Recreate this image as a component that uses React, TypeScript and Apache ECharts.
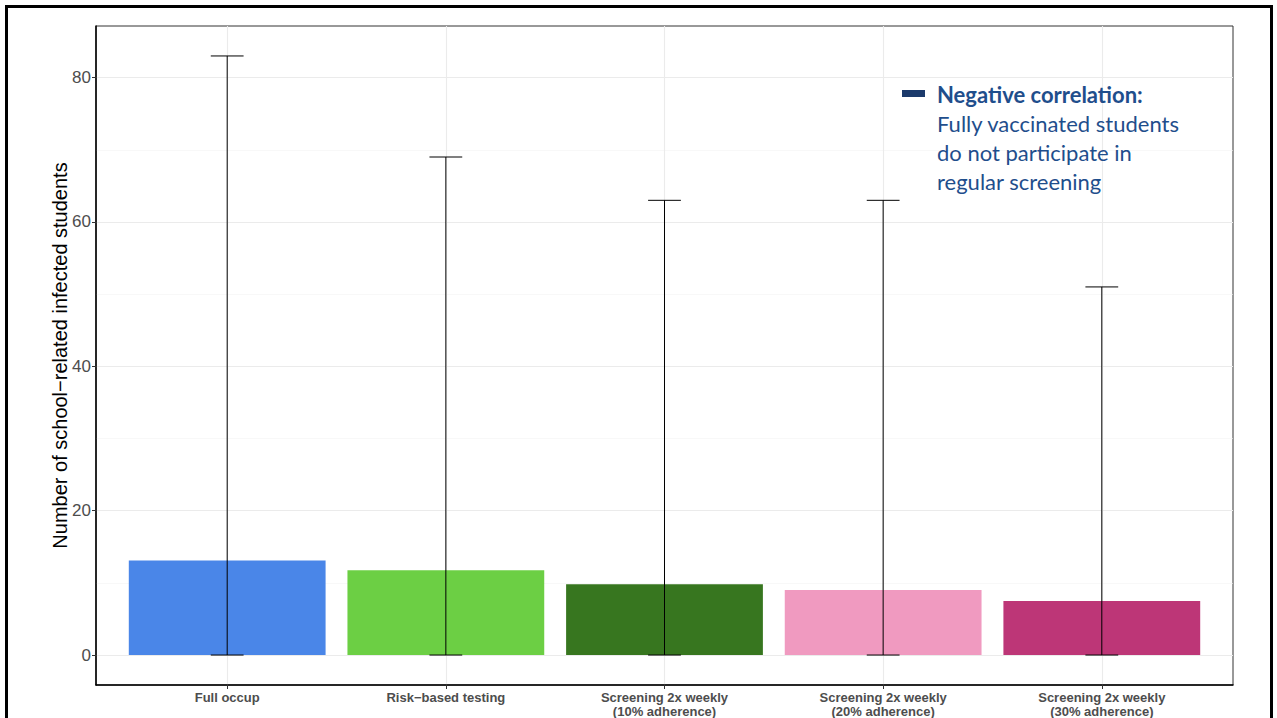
import React, { useEffect, useRef } from "react";
import * as echarts from "echarts";

const categories = [
  "Full occup",
  "Risk\u2212based testing",
  "Screening 2x weekly\n(10% adherence)",
  "Screening 2x weekly\n(20% adherence)",
  "Screening 2x weekly\n(30% adherence)",
];
const means = [13.1, 11.75, 9.8, 9.0, 7.5];
const lower = [0, 0, 0, 0, 0];
const upper = [83, 69, 63, 63, 51];
const barColors = ["#4a86e8", "#6ccf44", "#37761f", "#f09ac0", "#bd3677"];
const yTicks = [0, 20, 40, 60, 80];
const yMinor = [10, 30, 50, 70];
const positions = [1, 2, 3, 4, 5];

export default function App() {
  const ref = useRef<HTMLDivElement>(null);
  useEffect(() => {
    if (!ref.current) return;
    const chart = echarts.init(ref.current, null, { renderer: "svg" });
    const gridLines: any[] = [];
    yMinor.forEach((v) =>
      gridLines.push({ yAxis: v, lineStyle: { color: "#f4f4f4", width: 0.6, type: "solid" } })
    );
    yTicks.forEach((v) =>
      gridLines.push({ yAxis: v, lineStyle: { color: "#ebebeb", width: 1.1, type: "solid" } })
    );
    positions.forEach((v) =>
      gridLines.push({ xAxis: v, lineStyle: { color: "#ebebeb", width: 1.1, type: "solid" } })
    );
    chart.setOption({
      animation: false,
      backgroundColor: "#ffffff",
      grid: {
        left: 96,
        top: 26,
        right: 44,
        bottom: 32,
        show: true,
        borderColor: "#333333",
        borderWidth: 1,
        backgroundColor: "transparent",
      },
      xAxis: {
        type: "value",
        min: 0.4,
        max: 5.6,
        splitLine: { show: false },
        axisLine: { show: true, onZero: false, lineStyle: { color: "#000", width: 1.5 } },
        axisTick: { show: true, customValues: positions, length: 4, lineStyle: { color: "#333" } },
        axisLabel: {
          customValues: positions,
          formatter: (v: number) => categories[Math.round(v) - 1] ?? "",
          color: "#4d4d4d",
          fontFamily: "Liberation Sans, Arial, sans-serif",
          fontWeight: "bold",
          fontSize: 13,
          lineHeight: 14,
          margin: 5,
        },
      },
      yAxis: {
        type: "value",
        min: -4.15,
        max: 87.15,
        splitLine: { show: false },
        axisLine: { show: true, onZero: false, lineStyle: { color: "#000", width: 1.5 } },
        axisTick: { show: true, customValues: yTicks, length: 4, lineStyle: { color: "#333" } },
        axisLabel: {
          customValues: yTicks,
          color: "#4d4d4d",
          fontFamily: "Liberation Sans, Arial, sans-serif",
          fontSize: 17,
          margin: 5,
        },
        name: "Number of school\u2212related infected students",
        nameLocation: "middle",
        nameGap: 26,
        nameMoveOverlap: false,
        nameTextStyle: {
          color: "#000",
          fontFamily: "Liberation Sans, Arial, sans-serif",
          fontSize: 20,
        },
      },
      series: [
        {
          type: "line",
          data: [],
          z: 0,
          silent: true,
          markLine: {
            silent: true,
            z: 0,
            symbol: ["none", "none"],
            label: { show: false },
            emphasis: { disabled: true },
            data: gridLines,
          },
        },
        {
          type: "bar",
          z: 2,
          barWidth: "90%",
          data: means.map((v, i) => ({
            value: [positions[i], v],
            itemStyle: { color: barColors[i] },
          })),
        },
        {
          type: "custom",
          z: 5,
          data: upper.map((u, i) => [positions[i], lower[i], u]),
          renderItem: (params: any, api: any) => {
            const x = api.value(0);
            const lo = api.coord([x, api.value(1)]);
            const hi = api.coord([x, api.value(2)]);
            const w = api.size([0.15, 0])[0];
            const style = { stroke: "#000", lineWidth: 1 };
            return {
              type: "group",
              children: [
                { type: "line", shape: { x1: lo[0], y1: lo[1], x2: hi[0], y2: hi[1] }, style },
                { type: "line", shape: { x1: hi[0] - w / 2, y1: hi[1], x2: hi[0] + w / 2, y2: hi[1] }, style },
                { type: "line", shape: { x1: lo[0] - w / 2, y1: lo[1], x2: lo[0] + w / 2, y2: lo[1] }, style },
              ],
            };
          },
        },
      ],
      graphic: [
        {
          type: "rect",
          shape: { x: 6.5, y: 6.5, width: 1265, height: 740 },
          style: { fill: "none", stroke: "#000", lineWidth: 3 },
          z: 100,
        },
        {
          type: "rect",
          shape: { x: 902, y: 90, width: 23, height: 7 },
          style: { fill: "#1b3a6b" },
          z: 100,
        },
        {
          type: "text",
          x: 937,
          y: 80,
          z: 100,
          style: {
            text: "{b|Negative correlation:}\nFully vaccinated students\ndo not participate in\nregular screening",
            fill: "#1f4e8c",
            font: "22px Lato, sans-serif",
            lineHeight: 29,
            rich: {
              b: { fontWeight: "bold", fontSize: 22, fontFamily: "Lato, sans-serif", fill: "#1f4e8c", lineHeight: 29 },
            },
          },
        },
      ],
    });
    return () => chart.dispose();
  }, []);
  return (
    <div
      ref={ref}
      style={{ position: "absolute", left: 0, top: 0, width: 1277, height: 718, background: "#fff" }}
    />
  );
}
